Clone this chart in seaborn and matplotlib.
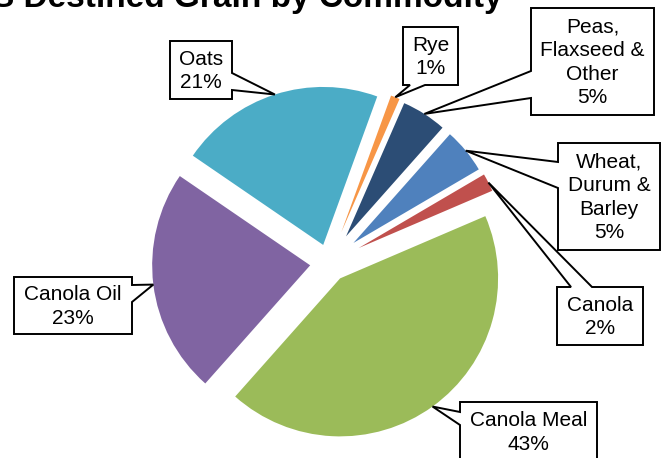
import numpy as np
import matplotlib
matplotlib.use("Agg")
import matplotlib.pyplot as plt
from matplotlib.patches import Polygon
import seaborn as sns

# ---- data ----
categories = ["Rye", "Peas,\nFlaxseed &\nOther", "Wheat,\nDurum &\nBarley", "Canola",
              "Canola Meal", "Canola Oil", "Oats"]
shares = [1, 5, 5, 2, 43, 23, 21]
title = "US Destined Grain by Commodity"

# ---- style ----
colors = ["#F79646", "#2C4D75", "#4F81BD", "#C0504D", "#9BBB59", "#8064A2", "#4BACC6"]
explode = [0.21, 0.20, 0.20, 0.21, 0.12, 0.12, 0.12]
radii = [0.92, 0.92, 0.92, 0.92, 1.0, 1.0, 1.0]

sns.set_theme(style="white")
plt.rcParams["font.family"] = ["Liberation Sans", "DejaVu Sans"]

W, H = 665, 458
CX, CY, S = 329, 263, 158  # pie centre (px from top-left) and px per unit radius

fig = plt.figure(figsize=(W / 100, H / 100), dpi=100)
ax = fig.add_axes([0, 0, 1, 1])

wedges, _ = ax.pie(shares, colors=sns.color_palette(colors), startangle=70,
                   counterclock=False, explode=explode, radius=1.0,
                   wedgeprops=dict(linewidth=0))
for w, r in zip(wedges, radii):
    w.set_radius(r)

ax.set_xlim(-CX / S, (W - CX) / S)
ax.set_ylim((CY - H) / S, CY / S)
ax.set_aspect("equal")
ax.axis("off")


def px(x, y):
    return ((x - CX) / S, (CY - y) / S)


# label boxes: (x0, y0, x1, y1) in px, side of pointer, pointer base (two coords)
boxes = [
    ((403, 27, 458, 85), "bottom", (410, 425)),
    ((531, 8, 654, 115), "left", (71, 98)),
    ((558, 143, 660, 250), "left", (162, 188)),
    ((557, 287, 643, 345), "top", (571, 592)),
    ((460, 402, 597, 461), "left", (412, 425)),
    ((14, 277, 132, 334), "right", (285, 302)),
    ((170, 41, 232, 99), "right", (73, 90)),
]

for w, cat, val, (box, side, base) in zip(wedges, categories, shares, boxes):
    mid = np.deg2rad((w.theta1 + w.theta2) / 2)
    cx, cy = w.center
    tip = (cx + w.r * np.cos(mid), cy + w.r * np.sin(mid))
    x0, y0, x1, y1 = box
    b0, b1 = base
    if side == "right":
        pts = [px(x0, y0), px(x1, y0), px(x1, b0), tip, px(x1, b1), px(x1, y1), px(x0, y1)]
    elif side == "left":
        pts = [px(x0, y0), px(x1, y0), px(x1, y1), px(x0, y1), px(x0, b1), tip, px(x0, b0)]
    elif side == "bottom":
        pts = [px(x0, y0), px(x1, y0), px(x1, y1), px(b1, y1), tip, px(b0, y1), px(x0, y1)]
    else:
        pts = [px(x0, y0), px(b0, y0), tip, px(b1, y0), px(x1, y0), px(x1, y1), px(x0, y1)]
    ax.add_patch(Polygon(pts, closed=True, facecolor="white", edgecolor="black",
                         linewidth=1.4, joinstyle="miter", zorder=3, clip_on=False))
    tx, ty = px((x0 + x1) / 2, (y0 + y1) / 2 + 1)
    ax.text(tx, ty, f"{cat}\n{val}%", ha="center", va="center", fontsize=15,
            linespacing=1.3, color="black", zorder=4)

fig.text(503 / W, 1 - 7.5 / H, title, ha="right", va="baseline", fontsize=24,
         fontweight="bold", color="black")

fig.savefig("out.png", dpi=100, facecolor="white")
